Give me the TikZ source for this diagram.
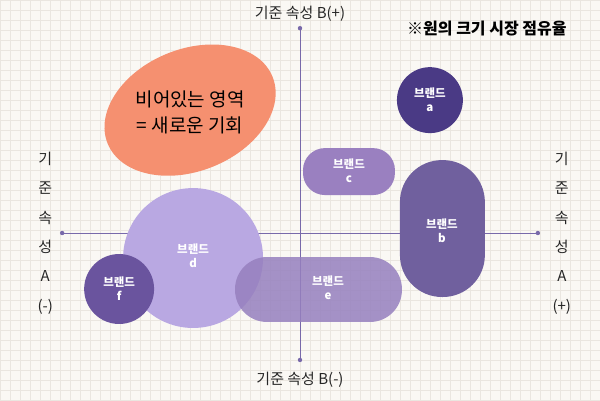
\documentclass[tikz,border=0pt]{standalone}
\usepackage{fontspec}
\setmainfont{Noto Sans CJK KR}
\definecolor{bgc}{RGB}{250,248,244}
\definecolor{gridc}{RGB}{234,230,224}
\definecolor{axc}{RGB}{120,105,170}
\definecolor{salmon}{RGB}{245,144,112}
\definecolor{cd}{RGB}{185,168,226}
\definecolor{ce}{RGB}{150,128,190}
\definecolor{cf}{RGB}{106,84,158}
\definecolor{cc}{RGB}{154,128,192}
\definecolor{cb}{RGB}{112,96,158}
\definecolor{ca}{RGB}{74,58,133}
\begin{document}
\begin{tikzpicture}[x=1pt,y=-1pt,
  brand/.style={text=white,font=\fontsize{11.5}{14}\selectfont\bfseries,align=center},
  axlbl/.style={font=\fontsize{15}{18}\selectfont,text=black!85},
  axis/.style={draw=axc,line width=0.8pt}]
\fill[bgc] (0,0) rectangle (600,400);
\foreach \i in {0,10,...,600} \draw[gridc,line width=0.4pt] (\i,0) -- (\i,400);
\foreach \j in {0,10,...,400} \draw[gridc,line width=0.4pt] (0,\j) -- (600,\j);
\useasboundingbox (0,0) rectangle (600,400);
% axes
\coordinate (vt) at (300,28); \coordinate (vb) at (300,360);
\coordinate (hl) at (62,233); \coordinate (hr) at (538,233);
\draw[axis] (vt) -- (vb); \draw[axis] (hl) -- (hr);
\foreach \p in {vt,vb,hl,hr} \fill[axc] (\p) circle (2.2);
% labels
\node[axlbl] (top) at (300,14) {기준 속성 B(+)};
\node[axlbl] (bot) at (300,380) {기준 속성 B(-)};
\node[axlbl,align=center,font=\fontsize{15}{29.5}\selectfont] (left) at (45,233) {기\\준\\속\\성\\A\\(-)};
\node[axlbl,align=center,font=\fontsize{15}{29.5}\selectfont] (right) at (562,233) {기\\준\\속\\성\\A\\(+)};
\node[font=\fontsize{16}{18}\selectfont\bfseries] (note) at (487,28) {※원의 크기 시장 점유율};
% empty area
\fill[salmon] (190,110) ellipse [x radius=89,y radius=61,rotate=22];
\node[align=center,font=\fontsize{19}{26}\selectfont] (opp) at (190,112) {비어있는 영역\\= 새로운 기회};
% brands
\fill[cd] (193,258) circle (70);
\node[brand] (d) at (193,256) {브랜드\\d};
\fill[ce,opacity=0.85,rounded corners=32] (235,257) rectangle (402,322);
\node[brand] (e) at (328,288) {브랜드\\e};
\fill[cf] (119,289) circle (35);
\node[brand] (f) at (119,289) {브랜드\\f};
\fill[cc,rounded corners=22] (303,148) rectangle (395,195);
\node[brand] (c) at (349,171) {브랜드\\c};
\fill[cb,rounded corners=42] (400,160) rectangle (485,297);
\node[brand] (b) at (442,231) {브랜드\\b};
\fill[ca] (430,100) circle (33);
\node[brand] (a) at (430,100) {브랜드\\a};
\end{tikzpicture}
\end{document}
